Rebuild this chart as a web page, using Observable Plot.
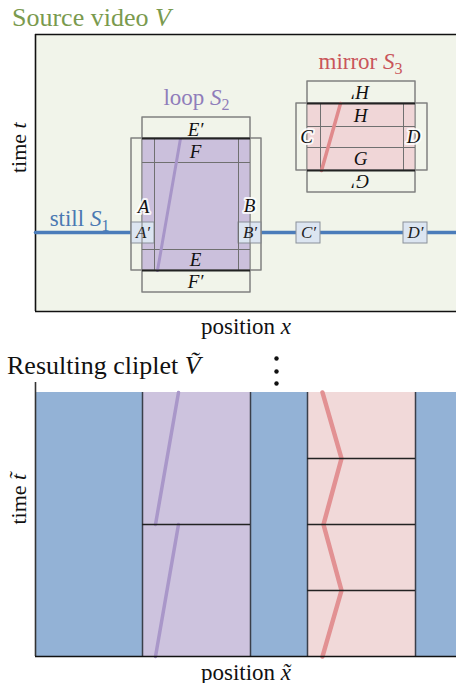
<!DOCTYPE html>
<html><head><meta charset="utf-8">
<script src="https://cdn.jsdelivr.net/npm/d3@7"></script>
<script src="https://cdn.jsdelivr.net/npm/@observablehq/plot@0.6"></script>
<style>
body{margin:0;background:#fff;}
#fig{position:relative;width:456px;height:683px;font-family:"Liberation Serif",serif;overflow:hidden;}
.ttl{position:absolute;white-space:nowrap;line-height:1;}
#top,#bot{position:absolute;left:0;}
#top{top:33px;} #bot{top:350px;}
</style></head><body>
<div id="fig">
 <div id="top"></div><div id="bot"></div>
 <div class="ttl" style="left:12px;top:5px;font-size:26px;color:#7a9a4e">Source video <i>V</i></div>
 <div class="ttl" style="left:7px;top:353px;font-size:26px;color:#111">Resulting cliplet <i>Ṽ</i></div>
</div>
<script>
// ---------- Source video V (position x, time t) ----------
const sourceExtent = [{x1: 0, x2: 421, t1: 0, t2: 277}];
const stillLine = [{x: 0, t: 79}, {x: 421, t: 79}];
const patches = [
  {kind: "loop",   x1: 107, x2: 215, t1: 41,  t2: 173},
  {kind: "mirror", x1: 272, x2: 380, t1: 141, t2: 208}
];
const contextFrames = [
  {x1: 107, x2: 215, t1: 19,  t2: 194},
  {x1: 96,  x2: 226, t1: 41,  t2: 173},
  {x1: 272, x2: 380, t1: 119, t2: 230},
  {x1: 261, x2: 392, t1: 141, t2: 208}
];
const innerVerticals = [
  {x: 119, t1: 41, t2: 173}, {x: 203, t1: 41, t2: 173},
  {x: 285, t1: 141, t2: 208}, {x: 368, t1: 141, t2: 208}
];
const innerHorizontals = [
  {t: 149, x1: 107, x2: 215}, {t: 62, x1: 107, x2: 215},
  {t: 185, x1: 272, x2: 380}, {t: 164, x1: 272, x2: 380}
];
const patchEdges = [
  {t: 173, x1: 107, x2: 215}, {t: 41, x1: 107, x2: 215},
  {t: 208, x1: 272, x2: 380}, {t: 141, x1: 272, x2: 380}
];
const portBoxes = [
  {label: "A′", x1: 96,  x2: 119, t1: 68, t2: 89},
  {label: "B′", x1: 203, x2: 226, t1: 68, t2: 89},
  {label: "C′", x1: 261, x2: 285, t1: 68, t2: 89},
  {label: "D′", x1: 368, x2: 392, t1: 68, t2: 89}
];
const loopTraceSource = [{x: 145, t: 173}, {x: 122, t: 41}];
const mirrorTraceSource = [{x: 305, t: 208}, {x: 286, t: 141}];
const rowLabels = [
  {label: "E′", x: 160, t: 182}, {label: "F", x: 160, t: 160},
  {label: "E", x: 160, t: 52},   {label: "F′", x: 160, t: 30},
  {label: "H", x: 325, t: 196},  {label: "G", x: 325, t: 153}
];
const flippedLabels = [{label: "H′", x: 325, t: 219}, {label: "G′", x: 325, t: 130}];
const edgeLabels = [
  {label: "A", x: 108, t: 105}, {label: "B", x: 214, t: 106},
  {label: "C", x: 271, t: 175}, {label: "D", x: 378, t: 175}
];
const regionLabels = [
  {text: "still S1",  x: 44,  t: 93,  color: "#4a78b2"},
  {text: "loop S2",   x: 161, t: 214, color: "#8f7dba"},
  {text: "mirror S3", x: 325, t: 250, color: "#c9555a"}
];

// ---------- Resulting cliplet Ṽ (position x̃, time t̃) ----------
const clipColumns = [
  {kind: "still",  x1: 0,   x2: 107, t1: 0, t2: 264},
  {kind: "loop",   x1: 107, x2: 215, t1: 0, t2: 264},
  {kind: "still",  x1: 215, x2: 272, t1: 0, t2: 264},
  {kind: "mirror", x1: 272, x2: 380, t1: 0, t2: 264},
  {kind: "still",  x1: 380, x2: 421, t1: 0, t2: 264}
];
const columnEdges = [107, 215, 272, 380];
const loopCuts = [{t: 132, x1: 107, x2: 215}];
const mirrorCuts = [66, 132, 198].map(t => ({t, x1: 272, x2: 380}));
const loopTraceClip = [
  {seg: 0, x: 143, t: 264}, {seg: 0, x: 120, t: 132},
  {seg: 1, x: 143, t: 132}, {seg: 1, x: 120, t: 0}
];
const mirrorTraceClip = [
  {x: 287, t: 264}, {x: 306, t: 198}, {x: 288, t: 132}, {x: 306, t: 66}, {x: 287, t: 0}
];
const clipAxisX = [{x: 0, t1: 0, t2: 274}];
const clipAxisT = [{t: 0, x1: 0, x2: 421}];
const ellipsis = [{x: 241, t: 298}, {x: 241, t: 285}, {x: 241, t: 273}];

const fillColors = {still: "#93b2d6", loop: "#cdc3de", mirror: "#f1d9d9"};
const srcFill = {loop: "#cbc0dc", mirror: "#f0d6d7"};

const math = {
  "time t": 'time <tspan font-style="italic">t</tspan>',
  "position x": 'position <tspan font-style="italic">x</tspan>',
  "time t\u0303": 'time <tspan font-style="italic">t\u0303</tspan>',
  "position x\u0303": 'position <tspan font-style="italic">x\u0303</tspan>',
  "still S1": 'still <tspan font-style="italic">S</tspan><tspan font-size="16" dy="5">1</tspan>',
  "loop S2": 'loop <tspan font-style="italic">S</tspan><tspan font-size="16" dy="5">2</tspan>',
  "mirror S3": 'mirror <tspan font-style="italic">S</tspan><tspan font-size="16" dy="5">3</tspan>'
};
function mathify(svg) {
  d3.select(svg).selectAll("text").each(function() {
    const k = this.textContent;
    if (math[k]) this.innerHTML = math[k];
  });
  return svg;
}

const baseStyle = {fontFamily: "'Liberation Serif', serif", background: "transparent", overflow: "visible"};

const topPlot = Plot.plot({
  width: 456, height: 307, marginLeft: 35, marginRight: 0, marginTop: 1, marginBottom: 29,
  x: {domain: [0, 421], axis: null},
  y: {domain: [0, 277], axis: null},
  style: baseStyle,
  marks: [
    Plot.rect(sourceExtent, {x1: "x1", x2: "x2", y1: "t1", y2: "t2", fill: "#f1f4ea"}),
    Plot.ruleY(sourceExtent, {y: "t2", x1: "x1", x2: "x2", stroke: "#111", strokeWidth: 1.6}),
    Plot.ruleY(sourceExtent, {y: "t1", x1: "x1", x2: "x2", stroke: "#111", strokeWidth: 1.6}),
    Plot.ruleX(sourceExtent, {x: "x1", y1: "t1", y2: "t2", stroke: "#111", strokeWidth: 1.6}),
    Plot.line(stillLine, {x: "x", y: "t", stroke: "#4b7cba", strokeWidth: 3.5}),
    Plot.rect(contextFrames, {x1: "x1", x2: "x2", y1: "t1", y2: "t2", fill: "none", stroke: "#808080", strokeWidth: 1}),
    Plot.rect(patches, {x1: "x1", x2: "x2", y1: "t1", y2: "t2", fill: d => srcFill[d.kind]}),
    Plot.rect(portBoxes, {x1: "x1", x2: "x2", y1: "t1", y2: "t2", fill: "#dce5f1", stroke: "#8a8f99", strokeWidth: 1}),
    Plot.rect(contextFrames, {x1: "x1", x2: "x2", y1: "t1", y2: "t2", fill: "none", stroke: "#808080", strokeWidth: 1}),
    Plot.ruleX(innerVerticals, {x: "x", y1: "t1", y2: "t2", stroke: "#707070", strokeWidth: 1}),
    Plot.ruleY(innerHorizontals, {y: "t", x1: "x1", x2: "x2", stroke: "#707070", strokeWidth: 1}),
    Plot.line(loopTraceSource, {x: "x", y: "t", stroke: "#a795c8", strokeWidth: 3}),
    Plot.line(mirrorTraceSource, {x: "x", y: "t", stroke: "#e08a8c", strokeWidth: 3.5}),
    Plot.ruleY(patchEdges, {y: "t", x1: "x1", x2: "x2", stroke: "#222", strokeWidth: 2}),
    Plot.text(portBoxes, {x: d => (d.x1 + d.x2) / 2, y: d => (d.t1 + d.t2) / 2, text: "label", fontStyle: "italic", fontSize: 17, fill: "#222"}),
    Plot.text(rowLabels, {x: "x", y: "t", text: "label", fontStyle: "italic", fontSize: 19, fill: "#111"}),
    Plot.text(flippedLabels, {x: "x", y: "t", text: "label", rotate: 180, fontStyle: "italic", fontSize: 19, fill: "#111"}),
    Plot.text(edgeLabels, {x: "x", y: "t", text: "label", fontStyle: "italic", fontSize: 19, fill: "#111", stroke: "white", strokeWidth: 4, strokeOpacity: 0.85}),
    Plot.text(regionLabels, {x: "x", y: "t", text: "text", fill: "color", fontSize: 23}),
    Plot.text(["time t"], {frameAnchor: "left", dx: -17, rotate: -90, fontSize: 22, fill: "#111"}),
    Plot.text(["position x"], {frameAnchor: "bottom", dy: 22, lineAnchor: "bottom", fontSize: 23, fill: "#111"})
  ]
});
document.getElementById("top").appendChild(mathify(topPlot));

const botPlot = Plot.plot({
  width: 456, height: 333, marginLeft: 35, marginRight: 0, marginTop: 42, marginBottom: 27,
  x: {domain: [0, 421], axis: null},
  y: {domain: [0, 264], axis: null},
  style: baseStyle,
  marks: [
    Plot.rect(clipColumns, {x1: "x1", x2: "x2", y1: "t1", y2: "t2", fill: d => fillColors[d.kind]}),
    Plot.line(loopTraceClip, {x: "x", y: "t", z: "seg", stroke: "#a997c9", strokeWidth: 3.5}),
    Plot.line(mirrorTraceClip, {x: "x", y: "t", stroke: "#e29193", strokeWidth: 4.5}),
    Plot.ruleX(columnEdges, {y1: 0, y2: 264, stroke: "#3a3f4a", strokeWidth: 1.5}),
    Plot.ruleY(loopCuts.concat(mirrorCuts), {y: "t", x1: "x1", x2: "x2", stroke: "#222", strokeWidth: 1.4}),
    Plot.ruleX(clipAxisX, {x: "x", y1: "t1", y2: "t2", stroke: "#333", strokeWidth: 1.6}),
    Plot.ruleY(clipAxisT, {y: "t", x1: "x1", x2: "x2", stroke: "#111", strokeWidth: 1.6}),
    Plot.dot(ellipsis, {x: "x", y: "t", r: 2.2, fill: "#111"}),
    Plot.text(["time t\u0303"], {frameAnchor: "left", dx: -17, rotate: -90, fontSize: 22, fill: "#111"}),
    Plot.text(["position x\u0303"], {frameAnchor: "bottom", dy: 23, lineAnchor: "bottom", fontSize: 23, fill: "#111"})
  ]
});
document.getElementById("bot").appendChild(mathify(botPlot));
</script>
</body></html>
